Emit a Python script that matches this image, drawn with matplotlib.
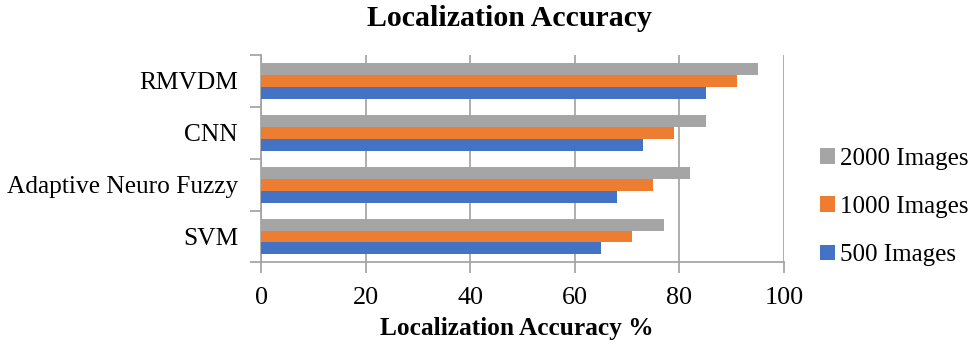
import numpy as np
import matplotlib.pyplot as plt

# Data (bottom to top)
methods = ['SVM', 'Adaptive Neuro Fuzzy', 'CNN', 'RMVDM']
acc_500 = [65, 68, 73, 85]
acc_1000 = [71, 75, 79, 91]
acc_2000 = [77, 82, 85, 95]
series_names = ['500 Images', '1000 Images', '2000 Images']
colors = ['#4472C4', '#ED7D31', '#A5A5A5']

plt.rcParams['font.family'] = ['Liberation Serif', 'DejaVu Serif']

fig = plt.figure(figsize=(9.75, 3.48), dpi=100)
ax = fig.add_axes([0.2677, 0.246, 0.5364, 0.596])

y = np.arange(len(methods))
h = 0.23
handles = []
for i, (vals, name, c) in enumerate(zip([acc_500, acc_1000, acc_2000], series_names, colors)):
    b = ax.barh(y + (i - 1) * h, vals, height=h, color=c, label=name, zorder=3)
    handles.append(b)

ax.set_xlim(0, 100)
ax.set_ylim(-0.5, len(methods) - 0.5)
ax.set_xticks(np.arange(0, 101, 20))
ax.set_yticks(y)
ax.set_yticklabels(methods)
ax.set_yticks(np.arange(-0.5, len(methods), 1), minor=True)

ax.grid(axis='x', color='#A0A0A0', linewidth=1.2, zorder=0)
for s in ['top', 'right']:
    ax.spines[s].set_visible(False)
for s in ['left', 'bottom']:
    ax.spines[s].set_color('#A0A0A0')
    ax.spines[s].set_linewidth(1.2)

ax.tick_params(axis='y', which='major', length=0, labelsize=18.3, pad=16.5)
ax.tick_params(axis='y', which='minor', length=8, color='#A0A0A0', width=1.2)
ax.tick_params(axis='x', length=8, color='#A0A0A0', width=1.2, labelsize=18.8, pad=10)

fig.text(0.523, 1 - 18 / 348, 'Localization Accuracy', fontsize=21.5,
         fontweight='bold', ha='center', va='center')
fig.text(0.530, 1 - 328 / 348, 'Localization Accuracy %', fontsize=18.3,
         fontweight='bold', ha='center', va='center')

leg = fig.legend(handles[::-1], series_names[::-1], loc='center left',
                 bbox_to_anchor=(0.818, 0.405), frameon=False, fontsize=18,
                 handlelength=0.6, handleheight=0.6, handletextpad=0.2,
                 labelspacing=1.05)

fig.savefig('out.png', dpi=100)
